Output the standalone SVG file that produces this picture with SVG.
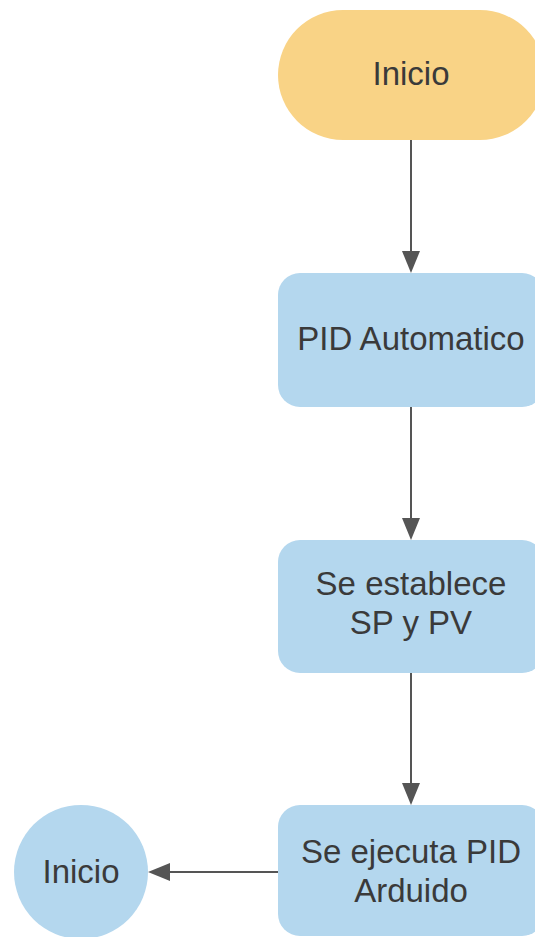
<svg xmlns="http://www.w3.org/2000/svg" width="535" height="937" viewBox="0 0 535 937">
<defs>
<style>
.t{font-family:"Liberation Sans",Arial,sans-serif;font-size:33px;fill:#3a3a3a;text-anchor:middle}
.box{fill:#b4d7ee}
.term{fill:#f9d386}
.ln{stroke:#555;stroke-width:2;fill:none}
.ah{fill:#555}
</style>
</defs>
<rect width="535" height="937" fill="#fff"/>
<g id="connectors">
<line class="ln" x1="411" y1="140" x2="411" y2="253"/>
<path class="ah" d="M402,251 L420,251 L411,273 Z"/>
<line class="ln" x1="411" y1="407" x2="411" y2="520"/>
<path class="ah" d="M402,518 L420,518 L411,540 Z"/>
<line class="ln" x1="411" y1="673" x2="411" y2="785"/>
<path class="ah" d="M402,783 L420,783 L411,805 Z"/>
<line class="ln" x1="278" y1="872" x2="168" y2="872"/>
<path class="ah" d="M170,863 L170,881 L148,872 Z"/>
</g>
<g id="start">
<rect class="term" x="278" y="10" width="267" height="130" rx="65"/>
<text class="t" x="411" y="85">Inicio</text>
</g>
<g id="pid-auto">
<rect class="box" x="278" y="273" width="266" height="134" rx="22"/>
<text class="t" x="411" y="350">PID Automatico</text>
</g>
<g id="sp-pv">
<rect class="box" x="278" y="540" width="266" height="133" rx="22"/>
<text class="t" x="411" y="595">Se establece</text>
<text class="t" x="411" y="634">SP y PV</text>
</g>
<g id="ejecuta">
<rect class="box" x="278" y="805" width="266" height="131" rx="22"/>
<text class="t" x="411" y="863">Se ejecuta PID</text>
<text class="t" x="411" y="902">Arduido</text>
</g>
<g id="end">
<circle class="box" cx="81" cy="872" r="67"/>
<text class="t" x="81" y="883">Inicio</text>
</g>
</svg>
